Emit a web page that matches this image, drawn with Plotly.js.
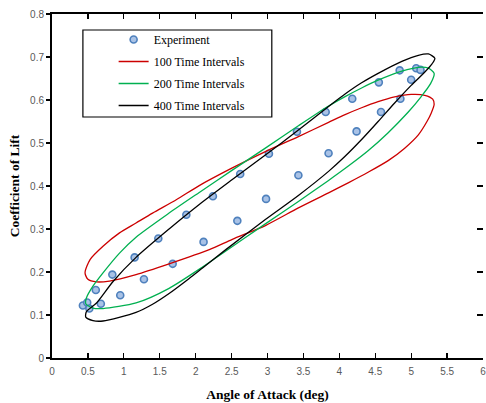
<!DOCTYPE html>
<html>
<head>
<meta charset="utf-8">
<script src="https://cdn.plot.ly/plotly-3.0.1.min.js"></script>
<style>html,body{margin:0;padding:0;background:#fff;}#chart{width:486px;height:403px;}</style>
</head>
<body>
<div id="chart"></div>
<script>
// Experimental data (angle of attack, coefficient of lift)
const expAlpha = [0.43, 0.49, 0.52, 0.61, 0.68, 0.84, 0.95, 1.15, 1.28, 1.48, 1.68, 1.87, 2.11, 2.24, 2.58, 2.62, 2.98, 3.02,
                  3.43, 3.41, 3.85, 3.81, 4.24, 4.18, 4.58, 4.55, 4.85, 4.84, 5.00, 5.07, 5.13];
const expCl    = [0.122, 0.129, 0.115, 0.158, 0.126, 0.194, 0.146, 0.234, 0.183, 0.278, 0.219, 0.333, 0.270, 0.376, 0.319, 0.428, 0.370, 0.475,
                  0.425, 0.526, 0.476, 0.572, 0.527, 0.603, 0.572, 0.641, 0.603, 0.669, 0.647, 0.674, 0.670];

// 100 time intervals loop (traced around the loop)
const alpha100 = [1.17, 1.40, 1.73, 2.05, 2.51, 2.97, 3.43, 3.85, 4.08, 4.31, 4.54, 4.77, 5.00, 5.19, 5.30, 5.32,
                  5.28, 5.22, 5.10, 4.91, 4.68, 4.40, 4.13, 3.85, 3.43, 2.97, 2.51, 2.19, 1.63, 1.17, 0.80, 0.62, 0.50, 0.46, 0.53, 0.71, 0.94, 1.17];
const cl100    = [0.314, 0.337, 0.368, 0.401, 0.442, 0.480, 0.515, 0.548, 0.566, 0.582, 0.596, 0.607, 0.613, 0.611, 0.602, 0.590,
                  0.570, 0.550, 0.519, 0.488, 0.459, 0.432, 0.408, 0.384, 0.349, 0.308, 0.276, 0.252, 0.219, 0.194, 0.179, 0.177, 0.183, 0.198, 0.229, 0.260, 0.291, 0.314];

// 200 time intervals loop
const alpha200 = [1.17, 1.63, 2.05, 2.51, 2.97, 3.43, 3.85, 4.08, 4.31, 4.54, 4.87, 5.10, 5.24, 5.32,
                  5.27, 5.14, 4.96, 4.68, 4.40, 4.13, 3.85, 3.43, 2.97, 2.37, 2.10, 1.63, 1.17, 0.71, 0.57, 0.47, 0.48, 0.57, 0.71, 0.94, 1.17];
const cl200    = [0.281, 0.337, 0.385, 0.437, 0.488, 0.540, 0.586, 0.608, 0.628, 0.646, 0.667, 0.676, 0.674, 0.662,
                  0.638, 0.608, 0.572, 0.524, 0.482, 0.447, 0.413, 0.364, 0.312, 0.243, 0.212, 0.162, 0.128, 0.115, 0.116, 0.126, 0.140, 0.167, 0.198, 0.244, 0.281];

// 400 time intervals loop
const alpha400 = [1.17, 1.63, 2.05, 2.51, 2.97, 3.43, 3.85, 4.08, 4.31, 4.54, 4.87, 5.10, 5.24, 5.33,
                  5.29, 5.19, 5.00, 4.77, 4.54, 4.31, 4.08, 3.85, 3.43, 2.97, 2.42, 2.10, 1.91, 1.63, 1.40, 1.17, 0.71, 0.57, 0.47, 0.48, 0.62, 0.85, 1.17];
const cl400    = [0.234, 0.300, 0.357, 0.415, 0.472, 0.530, 0.585, 0.614, 0.640, 0.662, 0.690, 0.704, 0.707, 0.697,
                  0.684, 0.665, 0.634, 0.593, 0.550, 0.508, 0.469, 0.434, 0.378, 0.322, 0.252, 0.210, 0.185, 0.150, 0.125, 0.106, 0.086, 0.087, 0.095, 0.108, 0.128, 0.178, 0.234];

const xTicks = [0, 0.5, 1, 1.5, 2, 2.5, 3, 3.5, 4, 4.5, 5, 5.5, 6];
const yTicks = [0, 0.1, 0.2, 0.3, 0.4, 0.5, 0.6, 0.7, 0.8];

const serif = 'Liberation Serif';
const legFont = {family: serif, size: 12, color: '#000'};
const tickFont = {family: 'Liberation Sans', size: 10, color: '#595959'};
const lineStyle = {width: 1.3, shape: 'spline', smoothing: 0.7};

const traces = [
  {x: expAlpha, y: expCl, mode: 'markers', name: 'Experiment', legendgroup: 'a',
   marker: {symbol: 'circle', size: 7, color: '#a9c2e6', line: {color: '#4f81bd', width: 1.6}}},
  {x: alpha100, y: cl100, mode: 'lines', name: '100 Time Intervals', legendgroup: 'b',
   line: Object.assign({color: '#cc0000'}, lineStyle)},
  {x: alpha200, y: cl200, mode: 'lines', name: '200 Time Intervals', legendgroup: 'c',
   line: Object.assign({color: '#00b050'}, lineStyle)},
  {x: alpha400, y: cl400, mode: 'lines', name: '400 Time Intervals', legendgroup: 'd',
   line: Object.assign({color: '#000000'}, lineStyle)}
];
// invisible copy that anchors the right-hand tick axis
traces.push({x: expAlpha, y: expCl, mode: 'markers', yaxis: 'y2', showlegend: false, hoverinfo: 'skip',
   marker: {opacity: 0}});

const layout = {
  width: 486, height: 403,
  margin: {l: 52, r: 3, t: 14, b: 45},
  paper_bgcolor: '#fff', plot_bgcolor: '#fff',
  showlegend: true,
  xaxis: {
    range: [0, 6], tickvals: xTicks, ticktext: xTicks.map(String),
    showgrid: false, zeroline: false, showline: true, linecolor: '#000', linewidth: 2,
    mirror: 'ticks', ticks: 'inside', ticklen: 5, tickcolor: '#000', tickwidth: 1.3,
    tickfont: tickFont, ticklabeloverflow: 'allow', ticklabelstandoff: 3,
    title: {text: '<b>Angle of Attack (deg)</b>', font: {family: serif, size: 13.5, color: '#000'}, standoff: 14}
  },
  yaxis: {
    range: [0, 0.8], tickvals: yTicks, ticktext: yTicks.map(String),
    showgrid: false, zeroline: false, showline: true, linecolor: '#000', linewidth: 2,
    ticks: 'outside', ticklen: 4, tickcolor: '#000', tickwidth: 1.3,
    tickfont: tickFont,
    title: {text: '<b>Coefficient of Lift</b>', font: {family: serif, size: 13.5, color: '#000'}, standoff: 7}
  },
  yaxis2: {
    range: [0, 0.8], tickvals: yTicks, overlaying: 'y', side: 'right',
    showgrid: false, zeroline: false, showline: false, showticklabels: false,
    ticks: 'inside', ticklen: 6, tickcolor: '#000', tickwidth: 1.3
  },
  shapes: [{
    type: 'rect', xref: 'paper', yref: 'paper', layer: 'below',
    x0: 0.0717, x1: 0.51, y0: 0.7006, y1: 0.9535,
    line: {color: '#000', width: 1.2}, fillcolor: '#fff'
  }],
  legend: {
    x: 0.143, y: 0.968, xanchor: 'left', yanchor: 'top',
    bgcolor: 'rgba(0,0,0,0)', borderwidth: 0,
    font: legFont, traceorder: 'grouped', tracegroupgap: 3
  }
};

Plotly.newPlot('chart', traces, layout, {displayModeBar: false, staticPlot: true});
</script>
</body>
</html>
